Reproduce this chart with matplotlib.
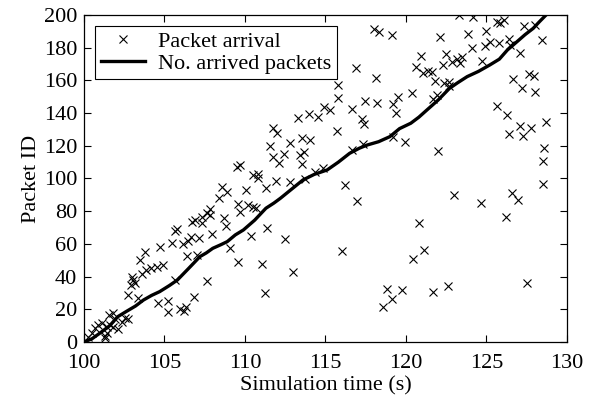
import matplotlib
matplotlib.use("Agg")
import matplotlib.pyplot as plt
import numpy as np

plt.rcParams['font.family'] = ['Liberation Serif', 'DejaVu Serif']
plt.rcParams['mathtext.fontset'] = 'stix'

# packet arrival: (arrival time, packet id)
arrival_time = [
    100.27, 100.47, 100.68, 100.89, 101.09, 101.30, 101.30, 101.40, 101.40, 101.57,
    101.61, 101.82, 101.82, 101.92, 102.13, 102.34, 102.55, 102.75, 102.75, 102.90,
    102.96, 103.02, 103.16, 103.37, 103.48, 103.58, 103.79, 103.86, 104.14, 104.51,
    104.62, 104.72, 104.93, 105.20, 105.24, 105.49, 105.66, 105.66, 105.76, 105.97,
    106.17, 106.21, 106.34, 106.38, 106.44, 106.65, 106.69, 106.86, 106.89, 107.00,
    107.17, 107.31, 107.31, 107.62, 107.62, 107.80, 107.83, 107.93, 108.41, 108.55,
    108.70, 108.80, 108.86, 109.07, 109.48, 109.58, 109.58, 109.69, 109.69, 110.06,
    110.21, 110.35, 110.52, 110.52, 110.68, 110.83, 110.83, 111.03, 111.24, 111.31,
    111.35, 111.56, 111.72, 111.76, 111.93, 112.01, 112.14, 112.43, 112.48, 112.80,
    112.80, 113.00, 113.27, 113.42, 113.52, 113.56, 113.66, 113.73, 113.97, 114.04,
    114.35, 114.53, 114.83, 114.93, 115.28, 115.70, 115.80, 115.80, 116.00, 116.21,
    116.63, 116.67, 116.87, 116.98, 117.28, 117.35, 117.38, 117.45, 118.01, 118.12,
    118.17, 118.32, 118.59, 118.80, 119.11, 119.11, 119.17, 119.21, 119.38, 119.52,
    119.73, 119.94, 120.35, 120.45, 120.62, 120.83, 120.93, 121.07, 121.12, 121.35,
    121.64, 121.70, 121.70, 121.80, 121.90, 122.01, 122.11, 122.32, 122.38, 122.49,
    122.59, 122.67, 122.69, 122.88, 123.00, 123.15, 123.31, 123.35, 123.46, 123.87,
    124.08, 124.14, 124.64, 124.74, 124.91, 124.95, 125.22, 125.63, 125.63, 125.80,
    125.84, 126.11, 126.21, 126.29, 126.37, 126.42, 126.46, 126.61, 126.67, 126.98,
    127.08, 127.08, 127.18, 127.29, 127.33, 127.54, 127.66, 127.77, 127.95, 128.01,
    128.03, 128.42, 128.53, 128.53, 128.58, 128.68,
]
packet_id = [
    3.3, 5.3, 8.4, 10.4, 11.4, 3.9, 2.3, 9.4, 5.7, 16.5,
    10.4, 17.5, 9.4, 13.9, 7.7, 12.5, 14.9, 28.7, 13.9, 34.9,
    40.0, 37.9, 35.9, 26.7, 50.2, 41.6, 55.2, 44.0, 45.0, 46.0,
    24.1, 58.3, 47.1, 25.1, 18.1, 60.3, 67.9, 37.9, 68.9, 20.0,
    59.9, 19.2, 21.6, 52.6, 61.8, 64.4, 73.6, 27.3, 74.6, 53.2,
    63.4, 76.7, 72.6, 78.7, 37.5, 77.7, 81.2, 65.9, 87.9, 95.0,
    75.6, 70.9, 91.9, 57.3, 107.2, 84.2, 49.1, 108.2, 79.7, 93.0,
    83.8, 65.0, 102.1, 82.8, 81.8, 102.7, 100.1, 47.7, 29.8, 94.0,
    69.9, 119.9, 113.3, 130.7, 98.5, 128.0, 109.7, 115.0, 63.0, 121.5,
    97.6, 43.0, 136.8, 114.4, 124.6, 108.9, 116.0, 99.5, 139.4, 123.6,
    104.2, 137.4, 106.2, 143.5, 141.9, 129.1, 157.2, 149.0, 55.7, 96.0,
    117.4, 142.5, 167.4, 86.4, 136.4, 121.1, 133.1, 147.6, 191.2, 161.7,
    146.4, 189.4, 21.2, 32.6, 187.8, 26.1, 145.4, 125.6, 140.3, 150.0,
    31.8, 122.5, 152.1, 50.6, 168.4, 72.6, 174.9, 164.7, 56.3, 165.9,
    165.3, 148.6, 30.4, 159.8, 151.1, 116.8, 186.4, 169.4, 158.2, 176.1,
    34.3, 159.2, 156.6, 171.0, 89.9, 172.9, 200.0, 170.4, 174.1, 188.2,
    179.6, 199.0, 85.2, 172.1, 181.0, 190.2, 183.7, 195.9, 144.3, 182.7,
    194.9, 196.9, 76.7, 138.8, 185.1, 127.2, 181.6, 90.9, 160.6, 86.9,
    177.0, 132.1, 155.2, 126.2, 193.3, 36.3, 163.9, 131.1, 162.7, 193.9,
    153.1, 184.7, 110.9, 96.6, 118.8, 134.7,
]

# number of arrived packets over time
count_time = [100.0, 100.5, 101.0, 101.6, 102.1, 102.6, 103.2, 103.7, 104.2, 104.7,
              105.3, 105.8, 106.5, 107.2, 107.6, 108.0, 108.5, 108.9, 109.4, 109.9,
              110.6, 111.3, 111.8, 112.2, 112.9, 113.6, 114.3, 115.1, 115.8, 116.5,
              117.1, 117.6, 118.3, 119.0, 119.6, 120.3, 120.8, 121.3, 122.0, 122.7,
              123.2, 123.8, 124.5, 125.2, 125.8, 126.3, 126.9, 127.4, 127.9, 128.3,
              128.7]
count_value = [0.0, 2.0, 5.5, 10.0, 15.5, 18.5, 22.0, 25.7, 28.5, 30.8,
               34.5, 37.9, 45.0, 52.2, 54.5, 57.3, 59.5, 61.4, 65.5, 68.5,
               74.5, 81.8, 85.0, 87.9, 93.5, 99.1, 102.5, 105.2, 110.0, 115.4,
               118.5, 120.5, 122.5, 125.6, 130.5, 133.8, 137.5, 141.9, 148.0, 155.1,
               158.5, 162.3, 165.5, 169.4, 173.0, 178.6, 183.7, 188.0, 191.8, 196.0,
               200.0]

fig = plt.figure(figsize=(5.97, 4.03), dpi=100)
ax = fig.add_axes([0.1407, 0.1514, 0.8090, 0.8114])

ax.plot(arrival_time, packet_id, 'x', color='black', markersize=5.5,
        markeredgewidth=0.8, label='Packet arrival')
ax.plot(count_time, count_value, '-', color='black', linewidth=2.4,
        label='No. arrived packets')

ax.set_xlim(100, 130)
ax.set_ylim(0, 200)
ax.set_xticks(np.arange(100, 131, 5))
ax.set_yticks(np.arange(0, 201, 20))
ax.tick_params(direction='in', top=True, right=True, length=5, width=0.8,
               labelsize=16)
ax.tick_params(axis='x', pad=9)
ax.tick_params(axis='y', pad=5)
for s in ax.spines.values():
    s.set_linewidth(0.9)

ax.set_xlabel('Simulation time (s)', fontsize=16, labelpad=2)
ax.set_ylabel('Packet ID', fontsize=16, labelpad=2)

leg = ax.legend(loc='upper left', fontsize=16, frameon=True, fancybox=False,
                edgecolor='black', framealpha=1, borderpad=0.25,
                handlelength=2.0, handletextpad=0.6, labelspacing=0.05,
                borderaxespad=0.5)
leg.get_frame().set_linewidth(0.8)

fig.savefig('out.png', dpi=100)
